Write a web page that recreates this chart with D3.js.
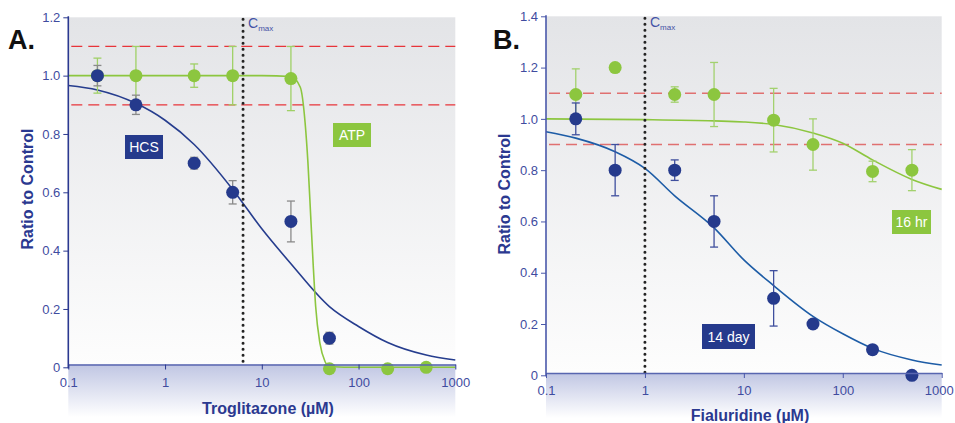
<!DOCTYPE html>
<html>
<head>
<meta charset="utf-8">
<script src="https://cdn.jsdelivr.net/npm/d3@7"></script>
<style>
    body { margin: 0; background: #fff; }
    svg text { font-family: "Liberation Sans", Arial, Helvetica, sans-serif; }
</style>
</head>
<body>
<svg id="chart" width="955" height="423"></svg>
<script>
var xTicks = [0.1, 1, 10, 100, 1000];
var yTicksA = [0, 0.2, 0.4, 0.6, 0.8, 1.0, 1.2];
var yTicksB = [0, 0.2, 0.4, 0.6, 0.8, 1.0, 1.2, 1.4];
var limitLines = [0.9, 1.1];

// panel A - troglitazone
var hcsConcA = [0.2, 0.5, 2, 5, 20, 50];
var hcsValA = [1.0, 0.9, 0.7, 0.6, 0.5, 0.1];
var hcsErrA = [0.035, 0.033, 0.02, 0.04, 0.07, 0.02];
var atpConcA = [0.2, 0.5, 2, 5, 20, 50, 200, 500];
var atpValA = [1.0, 1.0, 1.0, 1.0, 0.99, -0.005, -0.005, 0];
var atpErrA = [0.06, 0.1, 0.04, 0.1, 0.11, 0, 0, 0];
var hcsFitXA = [0.1, 0.2, 0.5, 1, 2, 5, 10, 20, 50, 100, 200, 500, 1000];
var hcsFitYA = [0.966, 0.951, 0.905, 0.847, 0.764, 0.61, 0.475, 0.355, 0.208, 0.14, 0.085, 0.042, 0.025];
var atpFitXA = [0.1, 1, 10, 20, 25, 28, 30, 32, 34, 36, 40, 45, 50, 100, 1000];
var atpFitYA = [1.0, 1.0, 1.0, 0.997, 0.96, 0.84, 0.7, 0.52, 0.35, 0.21, 0.08, 0.02, 0.003, 0, 0];
var cmaxA = 6.4;

// panel B - fialuridine
var dayConcB = [0.2, 0.5, 2, 5, 20, 50, 200, 500];
var dayValB = [1.0, 0.8, 0.8, 0.6, 0.3, 0.2, 0.1, 0.0];
var dayErrB = [0.062, 0.1, 0.04, 0.1, 0.108, 0, 0, 0];
var hrConcB = [0.2, 0.5, 2, 5, 20, 50, 200, 500];
var hrValB = [1.095, 1.2, 1.095, 1.095, 0.995, 0.9, 0.795, 0.8];
var hrErrB = [0.1, 0, 0.03, 0.125, 0.124, 0.1, 0.04, 0.08];
var dayFitXB = [0.1, 0.2, 0.5, 1, 2, 5, 10, 20, 50, 100, 200, 500, 1000];
var dayFitYB = [0.95, 0.925, 0.872, 0.807, 0.7, 0.575, 0.45, 0.35, 0.23, 0.162, 0.105, 0.06, 0.04];
var hrFitXB = [0.1, 1, 5, 10, 20, 50, 100, 200, 500, 1000];
var hrFitYB = [1.0, 0.997, 0.992, 0.988, 0.978, 0.945, 0.905, 0.84, 0.764, 0.725];
var cmaxB = 1;

var NAVY = '#253a8c';
var GREEN = '#8cc63f';

function zip(xs, ys, es) {
    return xs.map(function (x, i) {
        return { x: x, y: ys[i], e: es ? es[i] : 0 };
    });
}

function drawPanel(svg, p) {
    var x = d3.scaleLog().domain([0.1, 1000]).range([p.left, p.right]);
    var y = d3.scaleLinear().domain(p.yDomain).range([p.y0, p.top]);
    var g = svg.append('g');
    var defs = svg.select('defs');

    var bg = defs.append('linearGradient').attr('id', p.id + '-bg')
        .attr('x1', 0).attr('y1', 0).attr('x2', 0).attr('y2', 1);
    bg.append('stop').attr('offset', '0%').attr('stop-color', '#e3e4e7');
    bg.append('stop').attr('offset', '100%').attr('stop-color', '#fdfdfd');
    var band = defs.append('linearGradient').attr('id', p.id + '-band')
        .attr('x1', 0).attr('y1', 0).attr('x2', 0).attr('y2', 1);
    band.append('stop').attr('offset', '0%').attr('stop-color', '#c0c6e3');
    band.append('stop').attr('offset', '90%').attr('stop-color', '#ffffff');

    g.append('rect').attr('x', p.left).attr('y', p.top)
        .attr('width', p.right - p.left).attr('height', p.axisY - p.top)
        .attr('fill', 'url(#' + p.id + '-bg)');
    g.append('rect').attr('x', p.left).attr('y', p.axisY)
        .attr('width', p.right - p.left).attr('height', 423 - p.axisY)
        .attr('fill', 'url(#' + p.id + '-band)');

    // 0.9 / 1.1 limits
    g.selectAll('.limit').data(limitLines).enter().append('line')
        .attr('x1', p.left + 3).attr('x2', p.right)
        .attr('y1', y).attr('y2', y)
        .attr('stroke', p.redColor).attr('stroke-width', 1.3)
        .attr('stroke-dasharray', '11,6');

    // fitted curves
    var line = d3.line().x(function (d) { return x(d.x); }).y(function (d) { return y(d.y); })
        .curve(d3.curveMonotoneX);
    p.curves.forEach(function (c) {
        g.append('path').attr('d', line(zip(c.xs, c.ys)))
            .attr('fill', 'none').attr('stroke', c.color).attr('stroke-width', 1.6);
    });

    // Cmax
    g.append('line').attr('x1', x(p.cmax)).attr('x2', x(p.cmax))
        .attr('y1', p.top + 2).attr('y2', p.axisY)
        .attr('stroke', '#222').attr('stroke-width', 3)
        .attr('stroke-linecap', 'round').attr('stroke-dasharray', '0,6');
    var cm = g.append('text').attr('x', x(p.cmax) + 5).attr('y', p.top + 11)
        .attr('fill', '#4453a6').attr('font-size', 14).text('C');
    cm.append('tspan').attr('font-size', 8).attr('dy', 3).text('max');

    // series
    p.series.forEach(function (s) {
        var pts = zip(s.xs, s.ys, s.es);
        var eb = g.append('g').attr('stroke', s.errColor).attr('stroke-width', 1.3);
        pts.filter(function (d) { return d.e > 0; }).forEach(function (d) {
            var cx = x(d.x);
            eb.append('line').attr('x1', cx).attr('x2', cx).attr('y1', y(d.y - d.e)).attr('y2', y(d.y + d.e));
            eb.append('line').attr('x1', cx - 4).attr('x2', cx + 4).attr('y1', y(d.y - d.e)).attr('y2', y(d.y - d.e));
            eb.append('line').attr('x1', cx - 4).attr('x2', cx + 4).attr('y1', y(d.y + d.e)).attr('y2', y(d.y + d.e));
        });
        g.append('g').selectAll('circle').data(pts).enter().append('circle')
            .attr('cx', function (d) { return x(d.x); })
            .attr('cy', function (d) { return y(d.y); })
            .attr('r', 6.5).attr('fill', s.color);
    });

    // axes
    var yAxis = g.append('g').attr('transform', 'translate(' + p.left + ',0)')
        .call(d3.axisLeft(y).tickValues(p.yTicks).tickSize(5).tickSizeOuter(0).tickPadding(3)
            .tickFormat(function (d) { return d === 0 ? '0' : d3.format('.1f')(d); }));
    var xAxis = g.append('g').attr('transform', 'translate(0,' + p.axisY + ')')
        .call(d3.axisBottom(x).tickValues(xTicks).tickSize(5).tickSizeOuter(0).tickPadding(8)
            .tickFormat(function (d) { return String(d); }));
    yAxis.select('.domain').attr('stroke', p.yAxisColor).attr('stroke-width', 1.6)
        .attr('d', 'M0,' + (p.top - 1) + 'V' + (p.y0 + 1));
    xAxis.select('.domain').attr('stroke', '#5866b0').attr('stroke-width', 1.6);
    [yAxis, xAxis].forEach(function (a) {
        a.selectAll('.tick line').attr('stroke', p.yAxisColor);
        a.selectAll('.tick text').attr('fill', '#3f4c9f').attr('font-size', 13)
            .style('font-family', '"Liberation Sans", Arial, sans-serif');
    });
    // keep the last x label inside the page
    xAxis.selectAll('.tick text').filter(function (d) { return d === 1000; })
        .attr('dx', p.lastTickShift || 0);

    // label boxes
    p.boxes.forEach(function (b) {
        g.append('rect').attr('x', b.x).attr('y', b.y).attr('width', b.w).attr('height', b.h)
            .attr('fill', b.color);
        g.append('text').attr('x', b.x + b.w / 2).attr('y', b.y + b.h / 2 + 5)
            .attr('text-anchor', 'middle').attr('fill', '#fff').attr('font-size', 14)
            .text(b.text);
    });

    // titles
    g.append('text').attr('x', p.letter[0]).attr('y', p.letter[1])
        .attr('font-size', 27).attr('font-weight', 'bold').attr('fill', '#111')
        .text(p.letterText);
    g.append('text').attr('x', p.xTitle[0]).attr('y', p.xTitle[1])
        .attr('text-anchor', 'middle').attr('font-size', 16).attr('font-weight', 'bold')
        .attr('fill', '#2b3990').text(p.xTitleText);
    g.append('text').attr('transform', 'translate(' + p.yTitle[0] + ',' + p.yTitle[1] + ') rotate(-90)')
        .attr('text-anchor', 'middle').attr('font-size', 16).attr('font-weight', 'bold')
        .attr('fill', '#2b3990').text('Ratio to Control');
}

var svg = d3.select('#chart');
svg.append('defs');

drawPanel(svg, {
    id: 'pa', left: 68.3, right: 455.3, top: 17.3, y0: 367.3, axisY: 364.5,
    yDomain: [0, 1.2], yTicks: yTicksA, cmax: cmaxA,
    redColor: '#e8343a', yAxisColor: '#2b3990',
    curves: [
        { xs: hcsFitXA, ys: hcsFitYA, color: '#263d8e' },
        { xs: atpFitXA, ys: atpFitYA, color: GREEN }
    ],
    series: [
        { xs: atpConcA, ys: atpValA, es: atpErrA, color: GREEN, errColor: '#9fd066' },
        { xs: hcsConcA, ys: hcsValA, es: hcsErrA, color: NAVY, errColor: '#8a8a8a' }
    ],
    boxes: [
        { x: 125, y: 135, w: 38, h: 24, color: NAVY, text: 'HCS' },
        { x: 333, y: 123, w: 38, h: 24, color: GREEN, text: 'ATP' }
    ],
    letter: [8, 49], letterText: 'A.',
    xTitle: [268, 414], xTitleText: 'Troglitazone (\u00b5M)',
    yTitle: [33, 189]
});

drawPanel(svg, {
    id: 'pb', left: 546, right: 941.7, top: 16.3, y0: 375.3, axisY: 373,
    yDomain: [0, 1.4], yTicks: yTicksB, cmax: cmaxB,
    redColor: '#e07070', yAxisColor: '#4a58aa', lastTickShift: -3,
    curves: [
        { xs: dayFitXB, ys: dayFitYB, color: '#1d5ca6' },
        { xs: hrFitXB, ys: hrFitYB, color: GREEN }
    ],
    series: [
        { xs: hrConcB, ys: hrValB, es: hrErrB, color: GREEN, errColor: '#a3d16e' },
        { xs: dayConcB, ys: dayValB, es: dayErrB, color: NAVY, errColor: '#3f4f9e' }
    ],
    boxes: [
        { x: 892, y: 210, w: 39, h: 24, color: GREEN, text: '16 hr' },
        { x: 702, y: 324, w: 53, h: 25, color: NAVY, text: '14 day' }
    ],
    letter: [493, 49], letterText: 'B.',
    xTitle: [750, 421], xTitleText: 'Fialuridine (\u00b5M)',
    yTitle: [510, 194]
});
</script>
</body>
</html>
